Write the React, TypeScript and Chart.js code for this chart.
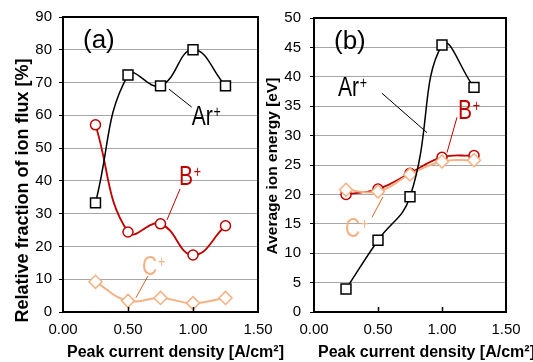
import React, { useEffect, useRef } from "react";
import { Chart, registerables } from "chart.js";

Chart.register(...registerables);

// ---- data ----
const currentDensity = [0.25, 0.5, 0.75, 1.0, 1.25];
const xTickValues = [0, 0.5, 1.0, 1.5];
const fractionTicks = [0, 10, 20, 30, 40, 50, 60, 70, 80, 90];
const energyTicks = [0, 5, 10, 15, 20, 25, 30, 35, 40, 45, 50];

const fractionAr = [33.3, 72.3, 69.0, 80.0, 69.0];
const fractionB = [57.1, 24.4, 26.9, 17.4, 26.3];
const fractionC = [9.2, 3.4, 4.3, 2.7, 4.3];

const energyAr = [3.9, 12.2, 19.6, 45.4, 38.2];
const energyB = [20.0, 20.9, 23.6, 26.3, 26.6];
const energyC = [20.8, 20.5, 23.4, 25.6, 25.8];

const FONT = "'Liberation Sans', Arial, sans-serif";
const BLACK = "#000000";
const RED = "#C00000";
const ORANGE = "#F4B183";
const ORANGE_DARK = "#D06A2A";
const GRID = "#A6A6A6";

type IonLabel = {
  base: string;
  sup: string;
  at: [number, number];
  lead: [number, number, number, number];
  color: string;
  leadColor: string;
};

type PanelCfg = {
  panel: string;
  yTitle: string;
  yTitleSize: number;
  yTitleOffset: [number, number];
  xTitle: string;
  labels: IonLabel[];
};

function drawIon(ctx: CanvasRenderingContext2D, l: IonLabel, px: number, py: number) {
  ctx.save();
  ctx.translate(px, py);
  ctx.scale(0.78, 1);
  ctx.fillStyle = l.color;
  ctx.textAlign = "left";
  ctx.textBaseline = "alphabetic";
  ctx.font = `27px ${FONT}`;
  ctx.fillText(l.base, 0, 0);
  const w = ctx.measureText(l.base).width;
  ctx.font = `16px ${FONT}`;
  ctx.fillText(l.sup, w + 1, -8);
  ctx.restore();
}

function makeDecor(cfg: PanelCfg) {
  return {
    id: "decor",
    afterDatasetsDraw(chart: any) {
      const { ctx, chartArea: a, scales } = chart;
      const xs = scales.x;
      const ys = scales.y;
      ctx.save();
      // frame
      ctx.strokeStyle = BLACK;
      ctx.lineWidth = 2;
      ctx.strokeRect(a.left, a.top, a.right - a.left, a.bottom - a.top);
      // inward x tick marks
      ctx.lineWidth = 1.5;
      for (const v of xTickValues) {
        if (v <= xs.min || v >= xs.max) continue;
        const px = Math.round(xs.getPixelForValue(v)) + 0.5;
        ctx.beginPath();
        ctx.moveTo(px, a.bottom);
        ctx.lineTo(px, a.bottom - 5);
        ctx.stroke();
      }
      // panel letter
      ctx.fillStyle = BLACK;
      ctx.font = `26px ${FONT}`;
      ctx.textAlign = "left";
      ctx.textBaseline = "alphabetic";
      ctx.fillText(cfg.panel, a.left + 20, a.top + 30.5);
      // ion labels with leader lines
      for (const l of cfg.labels) {
        ctx.beginPath();
        ctx.strokeStyle = l.leadColor;
        ctx.lineWidth = 1;
        ctx.moveTo(xs.getPixelForValue(l.lead[0]), ys.getPixelForValue(l.lead[1]));
        ctx.lineTo(xs.getPixelForValue(l.lead[2]), ys.getPixelForValue(l.lead[3]));
        ctx.stroke();
        drawIon(ctx, l, xs.getPixelForValue(l.at[0]), ys.getPixelForValue(l.at[1]));
      }
      // axis titles
      ctx.fillStyle = BLACK;
      ctx.font = `bold 16px ${FONT}`;
      ctx.textAlign = "left";
      ctx.textBaseline = "alphabetic";
      ctx.fillText(cfg.xTitle, a.left + 4, 357);
      ctx.save();
      ctx.translate(a.left + cfg.yTitleOffset[0], (a.top + a.bottom) / 2 + cfg.yTitleOffset[1]);
      ctx.rotate(-Math.PI / 2);
      ctx.font = `bold ${cfg.yTitleSize}px ${FONT}`;
      ctx.textAlign = "center";
      ctx.fillText(cfg.yTitle, 0, 0);
      ctx.restore();
      ctx.restore();
    },
  };
}

function series(values: number[]) {
  return currentDensity.map((x, i) => ({ x, y: values[i] }));
}

function buildConfig(
  ar: number[],
  b: number[],
  c: number[],
  yTicks: number[],
  dims: { yWidth: number; top: number; right: number; xHeight: number },
  cfg: PanelCfg
): any {
  const common = { showLine: true, tension: 0.45, pointBackgroundColor: "#ffffff" };
  return {
    type: "scatter",
    data: {
      datasets: [
        {
          ...common,
          label: "Ar+",
          data: series(ar),
          borderColor: BLACK,
          borderWidth: 1.5,
          pointStyle: "rect",
          pointRadius: 7,
          pointBorderColor: BLACK,
          pointBorderWidth: 1.5,
        },
        {
          ...common,
          label: "C+",
          data: series(c),
          borderColor: ORANGE,
          borderWidth: 2,
          pointStyle: "rectRot",
          pointRadius: 6.5,
          pointBorderColor: ORANGE,
          pointBorderWidth: 1.5,
        },
        {
          ...common,
          label: "B+",
          data: series(b),
          borderColor: RED,
          borderWidth: 1.8,
          pointStyle: "circle",
          pointRadius: 5,
          pointBorderColor: RED,
          pointBorderWidth: 1.5,
        },
      ],
    },
    options: {
      animation: false,
      responsive: false,
      events: [],
      layout: { padding: { left: 0, top: dims.top, right: dims.right, bottom: 0 } },
      plugins: { legend: { display: false }, tooltip: { enabled: false } },
      scales: {
        x: {
          type: "linear",
          min: xTickValues[0],
          max: xTickValues[xTickValues.length - 1],
          afterBuildTicks: (s: any) => {
            s.ticks = xTickValues.map((v) => ({ value: v }));
          },
          afterFit: (s: any) => {
            s.height = dims.xHeight;
          },
          grid: { display: false },
          border: { display: true, color: BLACK, width: 2 },
          ticks: {
            color: BLACK,
            padding: 1,
            maxRotation: 0,
            autoSkip: false,
            font: { family: FONT, size: 15 },
            callback: (v: any) => Number(v).toFixed(2),
          },
        },
        y: {
          type: "linear",
          min: yTicks[0],
          max: yTicks[yTicks.length - 1],
          afterBuildTicks: (s: any) => {
            s.ticks = yTicks.map((v) => ({ value: v }));
          },
          afterFit: (s: any) => {
            s.width = dims.yWidth;
          },
          grid: { color: GRID, lineWidth: 1, drawTicks: true, tickLength: 4, tickColor: BLACK, tickWidth: 1 },
          border: { display: true, color: BLACK, width: 2 },
          ticks: {
            color: BLACK,
            padding: dims.yWidth > 60 ? 7 : 9,
            autoSkip: false,
            font: { family: FONT, size: 15 },
            callback: (v: any) => String(v),
          },
        },
      },
    },
    plugins: [makeDecor(cfg)],
  };
}

const panelA: PanelCfg = {
  panel: "(a)",
  yTitle: "Relative fraction of ion flux [%]",
  yTitleSize: 18,
  yTitleOffset: [-35, 26],
  xTitle: "Peak current density [A/cm²]",
  labels: [
    { base: "Ar", sup: "+", at: [0.99, 57.0], lead: [0.815, 68.0, 0.99, 62.5], color: BLACK, leadColor: BLACK },
    { base: "B", sup: "+", at: [0.892, 38.7], lead: [0.8, 28.1, 0.9, 37.5], color: RED, leadColor: RED },
    { base: "C", sup: "+", at: [0.608, 11.3], lead: [0.56, 4.3, 0.654, 11.0], color: ORANGE, leadColor: ORANGE_DARK },
  ],
};

const panelB: PanelCfg = {
  panel: "(b)",
  yTitle: "Average ion energy [eV]",
  yTitleSize: 15.5,
  yTitleOffset: [-37, 1],
  xTitle: "Peak current density [A/cm²]",
  labels: [
    { base: "Ar", sup: "+", at: [0.1875, 36.8], lead: [0.531, 37.2, 0.883, 30.5], color: BLACK, leadColor: BLACK },
    { base: "B", sup: "+", at: [1.125, 32.9], lead: [1.117, 33.1, 1.039, 27.1], color: RED, leadColor: RED },
    { base: "C", sup: "+", at: [0.242, 12.8], lead: [0.453, 16.1, 0.539, 19.6], color: ORANGE, leadColor: ORANGE_DARK },
  ],
};

export default function App() {
  const leftRef = useRef<HTMLCanvasElement>(null);
  const rightRef = useRef<HTMLCanvasElement>(null);

  useEffect(() => {
    const c1 = new Chart(
      leftRef.current as HTMLCanvasElement,
      buildConfig(fractionAr, fractionB, fractionC, fractionTicks, { yWidth: 63, top: 17, right: 42, xHeight: 50 }, panelA)
    );
    const c2 = new Chart(
      rightRef.current as HTMLCanvasElement,
      buildConfig(energyAr, energyB, energyC, energyTicks, { yWidth: 54, top: 18, right: 27, xHeight: 50 }, panelB)
    );
    return () => {
      c1.destroy();
      c2.destroy();
    };
  }, []);

  return (
    <div
      style={{
        position: "fixed",
        left: 0,
        top: 0,
        width: 533,
        height: 362,
        background: "#ffffff",
        overflow: "hidden",
      }}
    >
      <canvas ref={leftRef} width={300} height={362} style={{ position: "absolute", left: 0, top: 0 }} />
      <canvas ref={rightRef} width={273} height={362} style={{ position: "absolute", left: 260, top: 0 }} />
    </div>
  );
}
